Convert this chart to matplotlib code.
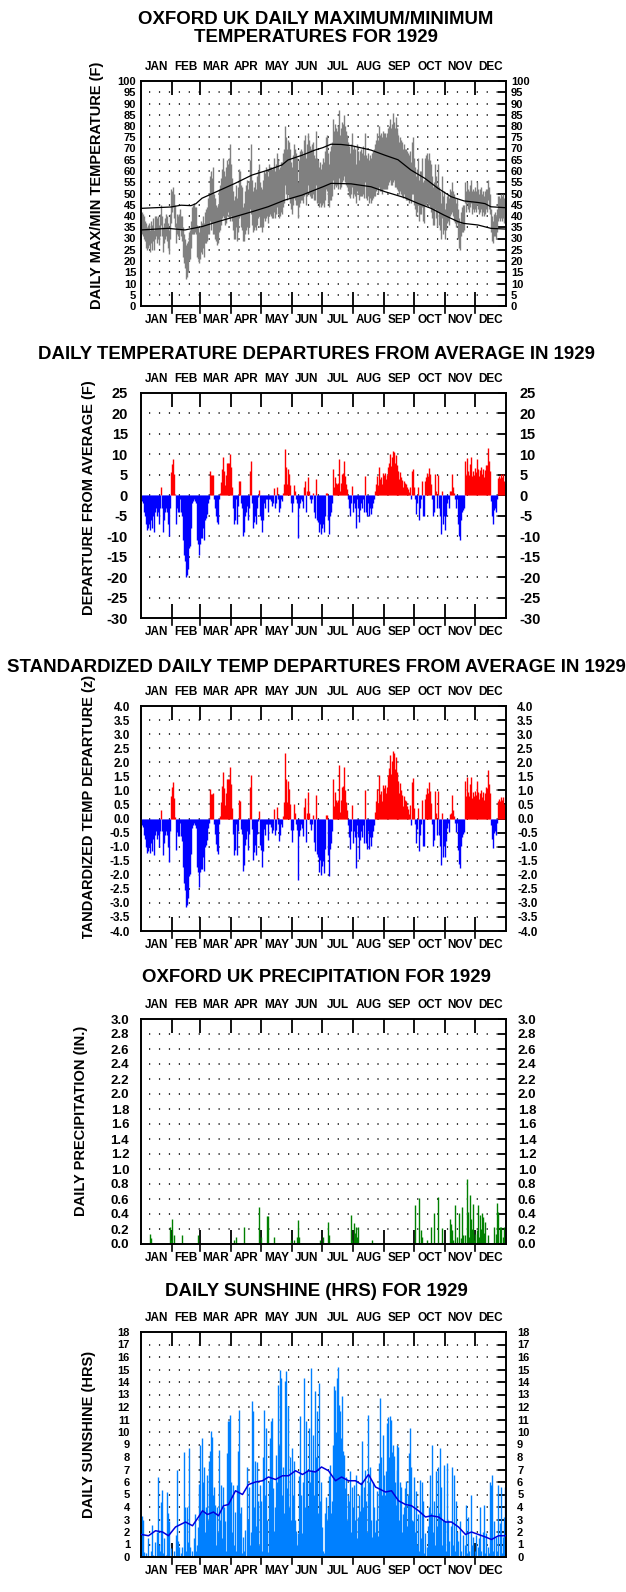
import matplotlib
matplotlib.use('Agg')
import matplotlib.pyplot as plt
import numpy as np
from matplotlib.transforms import Bbox, blended_transform_factory, offset_copy

plt.rcParams['font.family'] = ['Liberation Sans', 'DejaVu Sans']
plt.rcParams['font.weight'] = 'bold'

# ---------------- data ----------------
months = ['JAN', 'FEB', 'MAR', 'APR', 'MAY', 'JUN', 'JUL', 'AUG', 'SEP', 'OCT', 'NOV', 'DEC']
month_len = [31, 28, 31, 30, 31, 30, 31, 31, 30, 31, 30, 31]

tmax = [
    42,41,40,38,37,35,36,37,34,38,36,39,34,40,40,39,40,36,41,45,40,35,37,39,41,40,37,34,41,52,51,
    53,50,45,37,41,40,41,43,40,40,35,32,30,27,28,29,33,34,38,44,45,46,44,44,36,35,33,35,
    38,37,40,37,42,43,44,48,50,58,60,57,62,50,48,45,44,45,52,54,57,61,66,60,58,62,65,63,66,72,63,
    57,51,47,49,54,48,53,61,60,54,53,44,46,51,54,56,52,55,65,72,56,51,53,55,52,58,60,63,55,53,
    52,56,60,59,62,61,58,63,62,62,61,62,66,60,63,68,65,61,62,64,64,68,70,80,75,70,74,73,70,64,62,
    67,72,70,68,66,55,65,69,70,69,67,74,76,66,72,77,74,71,70,72,73,67,66,78,66,65,62,64,61,63,
    66,64,69,75,76,68,63,69,71,73,83,78,81,79,78,80,87,76,79,82,81,85,80,78,76,73,71,68,72,77,70,
    71,70,63,72,69,65,69,70,68,71,67,77,67,66,68,65,67,66,68,69,70,72,74,77,74,80,76,77,75,78,77,
    77,75,77,79,80,83,79,81,86,82,79,84,77,79,76,73,75,74,73,70,72,70,70,69,68,67,69,64,73,75,
    66,62,58,61,66,56,60,60,66,55,56,66,67,68,65,68,65,63,58,53,55,63,58,54,63,53,51,46,58,49,51,
    43,46,49,50,48,52,51,55,51,50,48,46,48,43,39,37,42,44,45,45,55,51,55,52,51,54,56,51,52,51,
    53,51,55,52,50,52,53,50,51,49,51,52,52,56,53,50,43,40,38,41,42,40,43,49,49,48,50,49,50,48,47,
]
tmin = [
    32,31,30,29,26,25,26,27,24,28,25,29,25,30,31,28,30,27,31,36,31,24,28,30,31,29,26,23,30,37,42,
    44,39,35,28,32,31,30,34,31,29,22,19,17,12,13,15,20,21,26,32,32,32,33,32,22,21,19,21,
    24,23,26,22,28,28,29,32,32,38,34,37,32,32,30,29,27,28,33,34,36,39,40,39,36,37,40,42,39,38,40,
    38,34,30,30,35,29,33,39,40,35,34,29,29,32,34,35,32,35,43,41,36,33,34,35,34,36,39,40,35,35,
    33,35,39,38,39,40,37,40,41,40,39,39,42,39,41,44,41,39,40,42,41,44,46,54,50,47,50,48,46,43,41,
    45,48,47,45,45,39,44,46,47,47,46,49,50,45,49,54,50,49,48,48,50,47,47,54,46,46,44,46,44,45,
    46,44,47,52,51,46,44,47,47,49,56,52,54,53,54,52,57,52,53,55,56,58,55,54,53,51,49,48,50,53,48,
    50,49,46,51,50,47,49,49,49,50,48,55,48,47,49,46,48,46,47,48,49,49,51,52,50,53,51,51,50,52,52,
    52,52,52,54,55,56,54,54,55,56,53,53,52,53,51,50,51,50,49,48,50,48,47,47,47,46,47,46,50,50,
    45,43,40,42,45,38,41,41,44,38,37,45,45,46,44,45,44,42,39,36,36,43,39,35,42,36,34,30,39,32,34,
    30,34,37,38,36,40,41,42,40,38,37,35,37,30,26,25,31,33,33,34,46,42,46,43,42,44,46,41,43,42,
    43,42,45,43,41,42,43,40,42,40,41,43,42,47,43,41,33,29,28,31,31,30,33,38,39,38,39,38,39,37,37,
]

# long-term normals read at these days of the year
norm_day = [0, 30, 40, 50, 55, 61, 77, 94, 111, 127, 141, 147, 161, 174, 182, 190, 200, 210,
            223, 230, 244, 257, 270, 284, 297, 310, 323, 337, 344, 350, 364]
norm_max = [43.4, 44.0, 44.8, 44.6, 45.5, 47.9, 51.1, 54.5, 58.2, 60.4, 62.7, 64.9, 67.0, 69.3, 70.4,
            71.9, 71.8, 71.3, 70.0, 69.3, 67.0, 65.0, 60.4, 56.7, 52.3, 48.6, 46.7, 46.0, 45.5, 44.1, 43.7]
nmin_day = [0, 27, 44, 61, 77, 94, 111, 127, 144, 161, 174, 182, 190, 210, 230, 244, 264, 277,
            290, 303, 317, 323, 337, 350, 364]
norm_min = [33.8, 34.5, 33.8, 35.3, 37.5, 39.7, 41.9, 44.1, 47.1, 49.3, 51.6, 53.0, 54.5, 54.3, 53.0,
            50.8, 48.1, 45.6, 43.4, 40.4, 37.5, 36.7, 36.0, 34.5, 34.2]

departure = [
    -1.5,-2,-4,-5,-7,-8.5,-8,-7,-8.5,-6,-8,-5,-9,-4,-3,-5,-4,-7,-3,2,-3,-9,-6,-4,-3,-4,-7,-10,-3,5.6,7.7,
    8.9,5.1,0.3,-7,-3,-4,-4,-1,-4,-5,-11,-14.5,-16,-20,-19.5,-18,-13,-12.5,-8,-2,-1.5,-1,-1.5,-2,-11,-12,-14.5,-12,
    -10.5,-10.5,-8,-11,-6,-5.5,-4.5,-2,-1,5.9,4.9,4.9,5,-1,-3,-5,-6.5,-7,-1,0.5,3.2,6.4,9.3,6,2.6,5,7.9,7.9,7.9,10.2,6.9,
    2,-3,-7,-6,-1,-7,-2.5,3.5,3.4,-2,-3,-10,-9,-5,-4,-2.5,-6,-3,6,8.4,-2,-8,-6.5,-5,-7,-3,-0.5,1.4,-5,-6,
    -9,-6,-2,-3,-1,-1,-4,-1,-1,-1.5,-2.5,-2,1.7,-3,-2,2,-1,-4,-3,-1,-1.5,0.5,2.8,11.4,6.9,2.8,6.5,5.1,2.6,-2,-4,
    -2,2.5,1,-1,-2,-10.5,-3,-2,-1,-1.5,-3,2,3.5,-4,1,4.5,1,-1,-2,-1,0.5,-4,-5.5,4,-6,-6.5,-9,-7,-9.5,-8,
    -7,-9,-5,0.5,0.5,-6,-9.5,-5,-4,-2,6.5,2,4.4,3,2.8,3,8.8,1.1,3,5.2,5.4,8.5,4.8,2.8,1.5,-1,-3,-5,-2,2.2,-4,
    -2,-3,-8,-1,-3,-6.5,-3.5,-2,-3,-1,-4,4.7,-4,-5,-2,-5,-3,-4.5,-3,-2,-1,1.1,2.8,4.8,2.5,7,4,4.4,2.8,5.4,5,
    5.4,4,5,6.9,8,10.2,7.2,9.3,10.8,10.5,7.9,9.8,6,7.5,6,4,5.7,4.5,3.8,2,3.6,3,2.8,2,1.5,0.7,2.1,-1,5.9,6.5,
    2,-1,-4.5,-2,2,-6,-3,-1,3.4,-5,-5,3.6,4.4,5.5,4.6,6.7,5.1,2.8,-1,-5,-4,5.1,1,-3,5,-3,-5,-9.5,1,-7,-5,
    -8.5,-5,-2,-1,-3,1,1.1,5.1,2,0.6,-1,-3,-1,-7,-10,-11,-6,-4,-3.5,-3,8.4,5,9.1,6,5,7.7,9.3,4.6,6,5,
    6.7,5.6,8.9,6.5,4.6,6.1,6.9,5.1,6.5,4.4,6.1,7.5,7.3,11.6,8.4,6,-1.5,-5,-7,-3.5,-3,-4,-1,4.3,4.8,4.3,5.1,4.5,5.2,3.6,2.8,
]

zscore = [
    -0.22,-0.29,-0.58,-0.73,-1.02,-1.23,-1.16,-1.02,-1.23,-0.87,-1.16,-0.73,-1.31,-0.58,-0.44,-0.73,-0.58,-1.02,-0.44,0.29,-0.44,-1.31,-0.87,-0.58,-0.44,-0.58,-1.02,-1.55,-0.44,0.81,1.12,
    1.29,0.74,0.05,-1.11,-0.47,-0.63,-0.63,-0.16,-0.63,-0.79,-1.74,-2.29,-2.53,-3.16,-3.08,-2.84,-2.05,-1.98,-1.26,-0.32,-0.24,-0.16,-0.24,-0.32,-1.74,-1.9,-2.45,-1.9,
    -1.8,-1.8,-1.36,-1.87,-1.02,-0.94,-0.77,-0.34,-0.17,1.06,0.88,0.88,0.9,-0.18,-0.54,-0.9,-1.17,-1.26,-0.18,0.09,0.58,1.15,1.67,1.08,0.47,0.9,1.42,1.42,1.42,1.84,1.24,
    0.37,-0.56,-1.3,-1.11,-0.19,-1.3,-0.46,0.65,0.63,-0.37,-0.56,-1.85,-1.67,-0.93,-0.74,-0.46,-1.11,-0.56,1.11,1.55,-0.37,-1.48,-1.2,-0.93,-1.3,-0.56,-0.09,0.26,-0.93,-1.11,
    -1.71,-1.14,-0.38,-0.57,-0.19,-0.19,-0.76,-0.2,-0.2,-0.3,-0.5,-0.4,0.34,-0.6,-0.4,0.4,-0.2,-0.8,-0.6,-0.2,-0.3,0.1,0.57,2.34,1.42,0.57,1.33,1.05,0.53,-0.41,-0.82,
    -0.42,0.53,0.21,-0.21,-0.42,-2.2,-0.63,-0.42,-0.21,-0.32,-0.63,0.42,0.74,-0.84,0.21,0.95,0.21,-0.21,-0.42,-0.21,0.11,-0.84,-1.16,0.84,-1.26,-1.37,-1.89,-1.47,-2.0,-1.68,
    -1.5,-1.94,-1.08,0.11,0.11,-1.29,-2.04,-1.08,-0.86,-0.43,1.4,0.43,0.95,0.65,0.6,0.65,1.89,0.24,0.65,1.12,1.16,1.83,1.03,0.6,0.32,-0.22,-0.65,-1.08,-0.43,0.47,-0.86,
    -0.44,-0.66,-1.76,-0.22,-0.66,-1.43,-0.77,-0.44,-0.66,-0.22,-0.88,1.03,-0.88,-1.1,-0.44,-1.1,-0.66,-0.99,-0.66,-0.44,-0.22,0.24,0.62,1.06,0.55,1.54,0.88,0.97,0.62,1.19,1.1,
    1.2,0.89,1.11,1.53,1.78,2.26,1.6,2.06,2.4,2.33,1.75,2.18,1.33,1.67,1.33,0.89,1.27,1.0,0.84,0.44,0.8,0.67,0.62,0.44,0.33,0.16,0.47,-0.22,1.31,1.44,
    0.39,-0.2,-0.88,-0.39,0.39,-1.17,-0.59,-0.2,0.66,-0.98,-0.98,0.7,0.86,1.07,0.9,1.31,0.99,0.55,-0.2,-0.98,-0.78,0.99,0.2,-0.59,0.98,-0.59,-0.98,-1.65,0.2,-1.37,-0.98,
    -1.36,-0.8,-0.32,-0.16,-0.48,0.16,0.18,0.82,0.32,0.1,-0.16,-0.48,-0.16,-1.12,-1.6,-1.76,-0.96,-0.64,-0.56,-0.48,1.34,0.8,1.46,0.96,0.8,1.23,1.49,0.74,0.96,0.8,
    0.99,0.83,1.32,0.96,0.68,0.9,1.02,0.75,0.96,0.65,0.9,1.11,1.08,1.72,1.24,0.89,-0.22,-0.74,-1.04,-0.52,-0.44,-0.59,-0.15,0.64,0.71,0.64,0.75,0.67,0.77,0.53,0.42,
]

precip = [
    0,0,0,0,0,0,0,0,0.14,0.08,0,0,0,0,0,0,0,0,0,0,0,0,0,0,0,0,0,0,0.23,0.05,0.34,
    0,0.12,0,0,0,0,0,0,0,0.12,0,0,0,0,0,0,0,0,0,0,0,0,0,0,0,0.12,0,0,
    0,0,0,0,0,0,0,0,0,0,0,0,0,0,0,0,0,0,0,0,0,0,0,0,0,0,0,0,0,0,0,
    0,0,0.05,0,0.1,0,0,0,0,0,0,0,0.23,0,0,0,0,0,0,0,0,0,0,0,0,0,0,0.5,0,0.1,
    0,0,0,0,0,0.38,0.38,0,0,0,0,0,0.1,0,0,0,0,0,0,0,0,0,0,0,0,0,0,0,0,0.05,0,
    0,0.05,0,0,0.1,0.32,0.1,0,0,0,0,0,0,0,0,0,0,0,0,0,0,0,0,0,0,0,0,0.05,0,0,
    0.1,0,0,0,0,0.3,0.12,0,0,0,0,0,0,0,0,0,0,0,0,0,0,0,0,0,0,0,0,0,0.39,0.05,0,
    0.28,0.15,0.23,0.1,0.23,0,0,0,0,0,0,0,0,0,0,0,0,0,0.05,0,0,0,0,0,0,0,0,0,0,0,0,
    0,0,0,0,0,0,0,0,0,0,0,0,0,0,0,0,0,0,0,0,0,0,0,0,0,0,0,0,0,0,
    0,0.52,0,0,0,0.62,0,0.19,0.1,0,0,0,0,0.05,0,0,0,0.23,0,0,0.41,0,0,0,0.63,0,0,0,0.21,0,0,
    0,0,0,0,0,0.34,0.27,0.19,0.05,0,0.52,0,0.1,0,0.42,0,0.08,0.5,0.12,0,0.12,0,0.87,0.43,0.1,0.65,0.34,0.2,0.54,0.05,
    0.14,0,0.19,0.52,0.1,0.39,0.2,0.42,0.36,0.15,0.3,0,0,0.12,0,0,0,0,0,0.23,0,0.14,0.55,0.43,0,0.23,0.23,0,0.1,0.23,0,
]

sunshine = [
    3.3,3.0,0.4,0,0.3,0,1.5,0,0,0.5,2.6,0.2,0,1.2,0,2.0,6.4,1.0,0.5,4.4,5.4,0.3,1.5,0,0.2,5.2,3.5,2.9,0,0.7,0,
    0,0.5,0,1.8,7.0,1.3,0.8,0,0.3,0.8,0,8.4,4.0,0.5,4.0,1.2,8.7,0.8,0,0.5,0,1.5,3.45,0.5,1.0,2.4,5.85,9.0,
    3.5,9.5,6.0,7.2,2.0,4.0,6.6,3.0,7.7,8.5,10.1,9.6,5.0,5.6,4.2,1.0,4.0,2.0,8.6,3.0,5.8,1.5,5.6,4.0,2.9,0.5,8.3,10.9,10.9,11.4,6.0,
    2.0,5.8,1.0,3.6,0.5,5.8,8.5,11.8,3.5,4.0,0.3,1.6,0.5,2.2,0,7.2,3.0,5.6,1.0,2.0,12.5,11.7,4.0,7.7,2.5,7.6,4.5,1.0,5.8,4.5,
    0.5,8.0,11.8,5.0,10.3,3.0,0.4,6.0,9.5,10.9,11.1,5.5,2.1,4.0,8.2,6.0,13.8,9.0,15.0,14.3,5.0,7.2,3.5,14.1,14.9,5.5,12.1,4.0,8.0,3.0,8.75,
    5.0,7.7,3.0,2.1,1.0,1.9,6.5,11.3,5.0,1.9,6.0,14.3,4.0,10.9,7.0,4.0,10.3,6.0,15.1,7.0,9.8,5.0,13.3,8.0,11.7,3.5,13.9,4.5,6.0,2.4,
    0.5,0.3,3.5,4.8,3.0,4.0,6.5,7.4,3.5,4.5,9.0,13.7,13.4,10.0,14.3,15.2,12.2,11.7,9.5,12.9,8.5,8.2,5.5,6.4,3.0,5.0,4.5,6.9,2.0,5.6,4.0,
    5.8,3.0,6.6,1.5,3.2,5.0,3.7,6.0,9.3,4.0,5.6,7.0,4.5,2.0,11.4,6.0,7.2,3.0,1.6,6.0,4.0,2.0,3.0,5.3,1.7,7.5,12.7,8.0,5.0,9.8,6.6,
    5.0,6.9,10.7,11.2,8.0,11.3,11.0,8.4,9.0,8.1,6.0,4.2,7.0,9.0,8.8,3.0,6.0,5.6,2.0,3.45,4.0,5.5,6.1,2.5,5.0,8.3,10.3,7.2,3.0,2.9,
    6.4,2.0,5.3,1.0,3.45,0.5,6.2,1.5,6.0,4.5,0.3,1.9,0,0.8,2.5,4.0,6.6,3.5,9.0,2.0,4.5,1.0,6.9,2.5,7.2,3.5,8.7,5.6,1.0,3.0,7.4,
    2.9,0.5,7.5,3.0,1.3,0,2.5,7.2,1.0,6.6,0.5,4.5,2.0,1.3,0,2.9,0.5,0,1.8,0,1.0,4.2,0.3,3.2,0.5,0,5.0,1.0,1.6,0,
    0.5,1.8,0,0.8,1.5,4.0,0.5,0,2.0,4.2,0.3,1.9,0,0.8,0.3,6.0,5.8,6.6,0.5,2.9,0,1.6,0.5,5.8,0,2.7,5.6,0.3,1.6,3.2,5.6,
]

sun_avg_day = [0, 7, 14, 21, 27, 34, 44, 51, 57, 61, 66, 72, 77, 82, 87, 94, 101, 107, 114, 121, 127,
               134, 141, 147, 154, 161, 167, 174, 180, 187, 194, 200, 207, 214, 220, 227, 234, 244,
               250, 257, 264, 270, 277, 284, 290, 297, 304, 310, 317, 324, 330, 337, 344, 350, 357, 364]
sun_avg = [1.8, 1.7, 2.1, 2.0, 1.7, 2.4, 2.8, 2.5, 3.2, 3.7, 3.4, 3.6, 3.3, 4.1, 4.2, 5.3, 5.0, 5.8,
           6.0, 6.1, 6.4, 6.2, 6.5, 6.5, 6.9, 6.6, 6.9, 6.8, 7.2, 6.9, 6.1, 6.4, 6.1, 6.1, 5.8, 6.6,
           5.6, 5.2, 5.3, 4.5, 4.2, 4.1, 3.7, 3.2, 3.3, 3.2, 2.8, 2.8, 2.4, 1.8, 2.0, 1.8, 1.6, 1.4,
           1.7, 1.7]

# ---------------- layout ----------------
W, H = 626, 1592
fig = plt.figure(figsize=(W / 100, H / 100), dpi=100)
fig.patch.set_facecolor('white')

days = np.arange(len(tmax)) + 0.5
bounds = np.cumsum([0] + month_len)
mids = (bounds[:-1] + bounds[1:]) / 2.0

AX_L, AX_W, AX_H = 141, 365, 225
TITLE_FS = 13.4
YLAB_FS = 10.5
MONTH_FS = 8.5


def make_ax(top):
    return fig.add_axes([AX_L / W, 1 - (top + AX_H) / H, AX_W / W, AX_H / H])


def style(ax, ymin, ymax, step, fmt, fs, pad):
    ax.set_xlim(0, 365)
    ax.set_ylim(ymin, ymax)
    for s in ax.spines.values():
        s.set_linewidth(1.4)
    ax.set_xticks(bounds[1:-1])
    ax.set_xticklabels([])
    ax.set_xticks(mids, minor=True)
    ax.set_xticklabels(months, minor=True)
    ax.tick_params(axis='x', which='major', direction='in', length=10, width=1.3,
                   top=True, bottom=True, labeltop=False, labelbottom=False)
    ax.tick_params(axis='x', which='minor', length=0, top=True, bottom=True,
                   labeltop=True, labelbottom=True, labelsize=MONTH_FS, pad=6)
    # short outward stubs of the month ticks below the bottom axis
    base = blended_transform_factory(ax.transData, ax.transAxes)
    stub = offset_copy(base, fig=fig, x=0, y=-6, units='dots')
    for b in bounds[1:-1]:
        ax.plot([b, b], [0, 0], color='black', linewidth=1.2, clip_on=False,
                transform=base, zorder=5)
        ax.plot([b, b], [0, 0], color='black', linewidth=1.2, clip_on=False,
                transform=stub, zorder=5)
    ax.vlines(bounds[1:-1], 0, 1, transform=base, colors='none')
    n = int(round((ymax - ymin) / step))
    yt = np.linspace(ymin, ymax, n + 1)
    ax.set_yticks(yt)
    ax.set_yticklabels([fmt.format(v) for v in yt])
    ax.tick_params(axis='y', which='major', direction='in', length=6, width=1.3,
                   left=False, right=True, labelleft=True, labelright=True,
                   labelsize=fs, pad=pad)
    for lab in ax.get_xticklabels(minor=True) + ax.get_yticklabels():
        lab.set_fontweight('bold')
    ax.hlines(yt[1:-1], 8, 359, colors='black', linestyles=(0, (0.8, 5.7)), linewidth=1.1, zorder=0.5)


def add_stubs(ax):
    # outward month tick marks, 6 px long, drawn in display space below the axis
    for b in bounds[1:-1]:
        x_disp, y_disp = ax.transData.transform((b, ax.get_ylim()[0]))
        xf, yf = fig.transFigure.inverted().transform((x_disp, y_disp))
        fig.add_artist(plt.Line2D([xf, xf], [yf, yf - 7 / H], color='black', linewidth=1.2))


def title(y, text):
    fig.text(316 / W, 1 - y / H, text, ha='center', va='center', fontsize=TITLE_FS, fontweight='bold')


def ylab(x, y, text):
    return fig.text(x / W, 1 - y / H, text, ha='center', va='center', rotation=90,
                    fontsize=YLAB_FS, fontweight='bold')


# Panel 1: max/min temperatures
ax1 = make_ax(81)
style(ax1, 0, 100, 5, '{:.0f}', 8, 3.5)
ax1.vlines(days, tmin, tmax, colors='#808080', linewidth=1.0, zorder=2)
ax1.plot(norm_day, norm_max, color='black', linewidth=0.9, zorder=3)
ax1.plot(nmin_day, norm_min, color='black', linewidth=0.9, zorder=3)
title(19, 'OXFORD UK DAILY MAXIMUM/MINIMUM')
title(38, 'TEMPERATURES FOR 1929')
ylab(97, 185, 'DAILY MAX/MIN TEMPERATURE (F)')

# Panel 2: departures
ax2 = make_ax(393)
style(ax2, -30, 25, 5, '{:.0f}', 10.5, 9.5)
dep = np.array(departure)
ax2.vlines(days[dep >= 0], 0, dep[dep >= 0], colors='#ff0000', linewidth=1.0, zorder=2)
ax2.vlines(days[dep < 0], 0, dep[dep < 0], colors='#0000ff', linewidth=1.0, zorder=2)
title(354.5, 'DAILY TEMPERATURE DEPARTURES FROM AVERAGE IN 1929')
ylab(89, 497.5, 'DEPARTURE FROM AVERAGE (F)')

# Panel 3: standardized departures
ax3 = make_ax(706)
style(ax3, -4, 4, 0.5, '{:.1f}', 8.5, 8)
z = np.array(zscore)
ax3.vlines(days[z >= 0], 0, z[z >= 0], colors='#ff0000', linewidth=1.0, zorder=2)
ax3.vlines(days[z < 0], 0, z[z < 0], colors='#0000ff', linewidth=1.0, zorder=2)
title(667.5, 'STANDARDIZED DAILY TEMP DEPARTURES FROM AVERAGE IN 1929')
t3 = ylab(89, 812, 'STANDARDIZED TEMP DEPARTURE (z)')
t3.set_clip_box(Bbox.from_extents(0, H - 939, W, H))
t3.set_clip_on(True)

# Panel 4: precipitation
ax4 = make_ax(1019)
style(ax4, 0, 3.0, 0.2, '{:.1f}', 9.5, 8.5)
pr = np.array(precip)
ax4.vlines(days[pr > 0], 0, pr[pr > 0], colors='#008000', linewidth=1.0, zorder=2)
title(977, 'OXFORD UK PRECIPITATION FOR 1929')
ylab(81, 1121, 'DAILY PRECIPITATION (IN.)')

# Panel 5: sunshine
ax5 = make_ax(1332)
style(ax5, 0, 18, 1, '{:.0f}', 8, 8)
ax5.vlines(days, 0, sunshine, colors='#0080ff', linewidth=1.0, zorder=2)
ax5.plot(np.array(sun_avg_day) + 0.5, sun_avg, color='#0000dd', linewidth=1.1, zorder=3)
title(1291, 'DAILY SUNSHINE (HRS) FOR 1929')
ylab(89, 1434.5, 'DAILY SUNSHINE (HRS)')

for a in (ax1, ax2, ax3, ax4, ax5):
    add_stubs(a)

fig.savefig('out.png', dpi=100, facecolor='white')
